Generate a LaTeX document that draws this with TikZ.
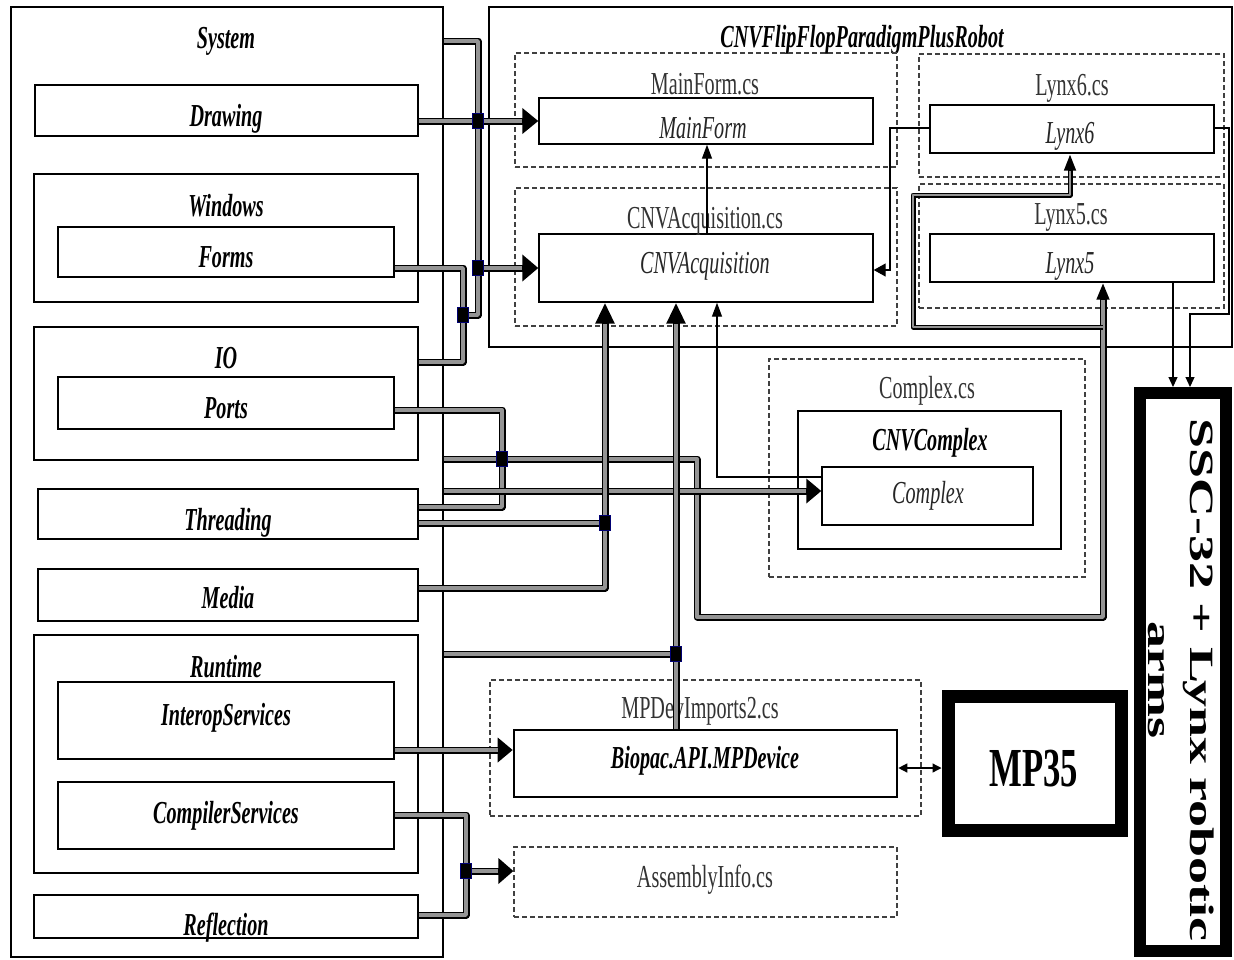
\documentclass[tikz,border=0pt]{standalone}
\usepackage{fontspec}
\setmainfont{Liberation Serif}[FakeStretch=0.63]
\newfontfamily\rotserif{Liberation Serif}
\usetikzlibrary{arrows.meta}
\newcommand\pipeline[1]{\draw[pipeO] #1; \draw[pipeI] #1;}
\newcommand\pipearr[3]{\draw[pipeO,-{Triangle[#1]}] #3; \draw[pipeI,shorten >=#2] #3;}
\begin{document}
\begin{tikzpicture}[x=1pt,y=-1pt,
  bx/.style={draw, line width=2.6pt, inner sep=0},
  tbx/.style={draw, line width=1.4pt, inner sep=0},
  dbx/.style={draw=black!75, line width=1.2pt, dash pattern=on 5pt off 3pt, inner sep=0},
  heavy/.style={draw, line width=12pt, inner sep=0},
  lb/.style={font=\fontsize{32}{36}\selectfont\bfseries\itshape, anchor=base, inner sep=0},
  li/.style={font=\fontsize{32}{36}\selectfont\itshape, text=black!85, anchor=base, inner sep=0},
  lc/.style={font=\fontsize{32}{36}\selectfont, text=black!80, anchor=base, inner sep=0},
  pipeO/.style={draw=black, line width=7pt, line join=round},
  pipeI/.style={draw=black!42, line width=3.4pt, line join=round},
  thinarr/.style={draw, line width=1.3pt, -{Triangle[length=14pt,width=10pt]}},
  smallarr/.style={draw, line width=1.2pt, -{Triangle[length=10pt,width=9pt]}},
  junc/.style={draw=blue!45!black, fill=black, line width=1pt, minimum width=11pt, minimum height=15pt, inner sep=0}
]
\fill[white] (0,0) rectangle (1234,959);
\useasboundingbox (0,0) rectangle (1234,959);

% ---------- left column ----------
\node[bx, minimum width=432pt, minimum height=950pt] (system) at (227,482) {};
\node[bx, minimum width=383pt, minimum height=51pt] (drawing) at (226.5,110.5) {};
\node[bx, minimum width=384pt, minimum height=128pt] (windows) at (226,238) {};
\node[bx, minimum width=336pt, minimum height=50pt] (forms) at (226,252) {};
\node[bx, minimum width=384pt, minimum height=133pt] (io) at (226,393.5) {};
\node[bx, minimum width=336pt, minimum height=52pt] (ports) at (226,403) {};
\node[bx, minimum width=380pt, minimum height=50pt] (threading) at (228,514) {};
\node[bx, minimum width=380pt, minimum height=52pt] (media) at (228,595) {};
\node[bx, minimum width=384pt, minimum height=238pt] (runtime) at (226,754) {};
\node[bx, minimum width=336pt, minimum height=77pt] (interop) at (226,720.5) {};
\node[bx, minimum width=336pt, minimum height=67pt] (compiler) at (226,815.5) {};
\node[bx, minimum width=384pt, minimum height=43pt] (reflection) at (226,916.5) {};

\node[lb] (tSystem) at (226,48) {System};
\node[lb] (tDrawing) at (226,126) {Drawing};
\node[lb] (tWindows) at (226,216) {Windows};
\node[lb] (tForms) at (226,267) {Forms};
\node[lb] (tIO) at (226,368) {IO};
\node[lb] (tPorts) at (226,418) {Ports};
\node[lb] (tThreading) at (228,530) {Threading};
\node[lb] (tMedia) at (228,608) {Media};
\node[lb] (tRuntime) at (226,677) {Runtime};
\node[lb] (tInterop) at (226,725) {InteropServices};
\node[lb] (tCompiler) at (226,823) {CompilerServices};
\node[lb] (tReflection) at (226,935) {Reflection};

% ---------- right upper block ----------
\node[bx, minimum width=743pt, minimum height=340pt] (cnvflip) at (860.5,177) {};
\node[lb] (tFlip) at (862,47) {CNVFlipFlopParadigmPlusRobot};
\node[dbx, minimum width=382pt, minimum height=114pt] (mainformcs) at (706,110) {};
\node[tbx, minimum width=334pt, minimum height=46pt] (mainform) at (706,121) {};
\node[dbx, minimum width=382pt, minimum height=138pt] (acqcs) at (706,257) {};
\node[tbx, minimum width=334pt, minimum height=68pt] (acq) at (706,268) {};
\node[dbx, minimum width=305pt, minimum height=123pt] (lynx6cs) at (1071.5,115.5) {};
\node[tbx, minimum width=284pt, minimum height=48pt] (lynx6) at (1072,129) {};
\node[dbx, minimum width=305pt, minimum height=124pt] (lynx5cs) at (1071.5,246) {};
\node[tbx, minimum width=284pt, minimum height=48pt] (lynx5) at (1072,258) {};

\node[lc] (tMainFormcs) at (705,94) {MainForm.cs};
\node[li] (tMainForm) at (703,138) {MainForm};
\node[lc] (tAcqcs) at (705,228) {CNVAcquisition.cs};
\node[li] (tAcq) at (705,273) {CNVAcquisition};
\node[lc] (tLynx6cs) at (1072,95) {Lynx6.cs};
\node[li] (tLynx6) at (1070,143) {Lynx6};
\node[lc] (tLynx5cs) at (1071,224) {Lynx5.cs};
\node[li] (tLynx5) at (1070,273) {Lynx5};

% ---------- complex ----------
\node[dbx, minimum width=316pt, minimum height=218pt] (complexcs) at (927,468) {};
\node[tbx, minimum width=263pt, minimum height=138pt] (cnvcomplex) at (929.5,480) {};
\node[tbx, minimum width=211pt, minimum height=58pt] (complex) at (927.5,496) {};
\node[lc] (tComplexcs) at (927,398) {Complex.cs};
\node[lb] (tCNVComplex) at (930,450) {CNVComplex};
\node[li] (tComplex) at (928,503) {Complex};

% ---------- lower middle ----------
\node[dbx, minimum width=431pt, minimum height=136pt] (mpdevcs) at (705.5,748) {};
\node[bx, minimum width=383pt, minimum height=67pt] (biopac) at (705.5,763.5) {};
\node[dbx, minimum width=383pt, minimum height=70pt] (assembly) at (705.5,882) {};
\node[lc] (tMPDev) at (700,718) {MPDevImports2.cs};
\node[lb] (tBiopac) at (705,768) {Biopac.API.MPDevice};
\node[lc] (tAssembly) at (705,887) {AssemblyInfo.cs};

% ---------- hardware ----------
\node[heavy, line width=13pt, minimum width=173pt, minimum height=134pt] (mp35) at (1034.5,763) {};
\node[font=\fontsize{55}{60}\selectfont\bfseries, anchor=base, inner sep=0] (tMP35) at (1034,786) {MP35};
\node[heavy, minimum width=86.5pt, minimum height=558pt] (ssc) at (1182.75,672) {};
\node[rotate=-90, anchor=base, inner sep=0, font=\rotserif\fontsize{54}{66}\selectfont\bfseries] (tSSC1) at (1190,680) {\scalebox{1}[0.63]{SSC-32 + Lynx robotic}};
\node[rotate=-90, anchor=base, inner sep=0, font=\rotserif\fontsize{54}{66}\selectfont\bfseries] (tSSC2) at (1148,680) {\scalebox{1}[0.63]{arms}};

% ---------- junction coordinates ----------
\coordinate (j1) at (478,121);
\coordinate (j2) at (478,268);
\coordinate (j3) at (463,315);
\coordinate (j4) at (502,459);
\coordinate (j5) at (605,523);
\coordinate (j6) at (676,654);
\coordinate (j7) at (466,871);
\coordinate (k1) at (1103,327);

% ---------- pipes ----------
\pipeline{(system.east |- 0,41) -| (478,315) -- (j3)}
\pipearr{length=16pt,width=25pt}{16pt}{(drawing.east |- j1) -- (mainform.west |- j1)}
\pipeline{(forms.east |- 0,268) -| (j3) |- (io.east |- 0,362)}
\pipearr{length=16pt,width=26pt}{16pt}{(j2) -- (acq.west |- j2)}
\pipeline{(ports.east |- 0,410) -| (j4) |- (threading.east |- 0,507)}
\pipearr{length=17pt,width=12pt}{17pt}{(system.east |- j4) -| (697,617) -| (lynx5.south -| k1)}
\draw[pipeO, line width=5pt, -{Triangle[length=17pt,width=11pt]}] (k1) -| (913,195) -| (lynx6.south -| 1070,0);
\draw[pipeI, line width=2.2pt, shorten >=17pt] (k1) -| (913,195) -| (lynx6.south -| 1070,0);
\pipearr{length=15pt,width=24pt}{15pt}{(system.east |- 0,491) -- (complex.west |- 0,491)}
\pipeline{(threading.east |- j5) -- (j5)}
\pipearr{length=21pt,width=18pt}{21pt}{(media.east |- 0,588) -| (acq.south -| j5)}
\pipeline{(system.east |- j6) -- (j6)}
\pipearr{length=21pt,width=18pt}{21pt}{(biopac.north -| j6) -- (acq.south -| j6)}
\pipearr{length=15pt,width=24pt}{15pt}{(interop.east |- 0,750) -- (biopac.west |- 0,750)}
\pipeline{(compiler.east |- 0,815) -| (j7) |- (reflection.east |- 0,915)}
\pipearr{length=15pt,width=25pt}{15pt}{(j7) -- (assembly.west |- j7)}

% ---------- junction squares ----------
\node[junc] (q1) at (j1) {};
\node[junc] (q2) at (j2) {};
\node[junc] (q3) at (j3) {};
\node[junc] (q4) at (j4) {};
\node[junc] (q5) at (j5) {};
\node[junc] (q6) at (j6) {};
\node[junc] (q7) at (j7) {};

% ---------- thin connectors ----------
\draw[thinarr] (acq.north -| 707,0) -- (mainform.south -| 707,0);
\draw[thinarr] (complex.west |- 0,477) -| (acq.south -| 717,0);
\draw[thinarr, -{Triangle[length=12pt,width=13pt]}] (lynx6.west |- 0,128) -| (890,270) -- (acq.east |- 0,270);
\draw[smallarr] (lynx6.east |- 0,128) -| (1229,314) -| (ssc.north -| 1190,0);
\draw[smallarr] (lynx5.south -| 1173,0) -- (ssc.north -| 1173,0);
\draw[line width=1.3pt, {Triangle[length=9pt,width=9pt]}-{Triangle[length=9pt,width=9pt]}] (biopac.east |- 0,768) -- (mp35.west |- 0,768);
\end{tikzpicture}
\end{document}
